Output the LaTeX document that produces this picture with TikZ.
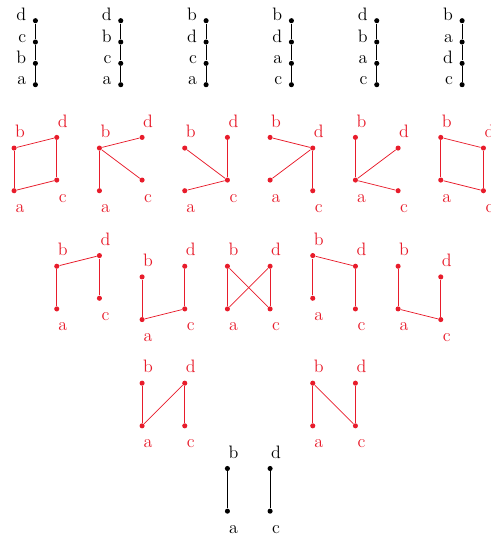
\documentclass[tikz,border=0pt]{standalone}
\usepackage{tikz}
\usepackage{xcolor}

\definecolor{posred}{RGB}{232,28,43}

\tikzset{
  vtx/.style={circle, fill, inner sep=0pt, minimum size=3.4pt},
  labl/.style={label={[anchor=base east, label distance=0.6pt]left:#1}},
  labup/.style={label={[xshift=4pt, label distance=1.2pt]above:#1}},
  labdn/.style={label={[xshift=4pt, label distance=3.8pt]below:#1}}
}

\begin{document}
\begin{tikzpicture}[line width=0.5pt, every label/.style={font=\large}]

\useasboundingbox (0,0) rectangle (11.507,-12.609);

% linear extensions
\foreach \i/\p/\q/\r/\s in {0/d/c/b/a, 1/d/b/c/a, 2/b/d/c/a, 3/b/d/a/c, 4/d/b/a/c, 5/b/a/d/c} {
  \node[vtx, labl=\p] (ch\i1) at (0.83+2*\i,-0.485) {};
  \node[vtx, labl=\q] (ch\i2) at (0.83+2*\i,-0.985) {};
  \node[vtx, labl=\r] (ch\i3) at (0.83+2*\i,-1.485) {};
  \node[vtx, labl=\s] (ch\i4) at (0.83+2*\i,-1.985) {};
  \draw (ch\i1) -- (ch\i2) -- (ch\i3) -- (ch\i4);
}

% posets: x / y / height of a / height of c / colour / edges
\foreach \x/\y/\l/\r/\col/\edges in {
  0.33/-4.47/0/0.25/posred/{a/b,b/d,d/c,c/a},
  2.33/-4.47/0/0.25/posred/{a/b,b/d,b/c},
  4.33/-4.47/0/0.25/posred/{b/c,d/c,a/c},
  6.33/-4.47/0.25/0/posred/{b/d,a/d,d/c},
  8.33/-4.47/0.25/0/posred/{a/b,a/d,a/c},
  10.33/-4.47/0.25/0/posred/{a/b,b/d,d/c,c/a},
  1.33/-7.24/0/0.25/posred/{a/b,b/d,d/c},
  3.33/-7.49/0/0.25/posred/{a/b,a/c,c/d},
  5.33/-7.24/0/0/posred/{a/b,d/c,b/c,a/d},
  7.33/-7.24/0.25/0/posred/{a/b,b/d,d/c},
  9.33/-7.49/0.25/0/posred/{a/b,a/c,c/d},
  3.33/-9.98/0/0/posred/{a/b,a/d,d/c},
  7.33/-9.98/0/0/posred/{a/b,b/c,d/c},
  5.33/-11.98/0/0/black/{a/b,c/d}} {
  \begin{scope}[shift={(\x,\y)}, color=\col]
    \node[vtx, labdn=a] (a) at (0,\l) {};
    \node[vtx, labup=b] (b) at (0,\l+1) {};
    \node[vtx, labdn=c] (c) at (1,\r) {};
    \node[vtx, labup=d] (d) at (1,\r+1) {};
    \foreach \u/\v in \edges
      \draw (\u) -- (\v);
  \end{scope}
}

\end{tikzpicture}
\end{document}
